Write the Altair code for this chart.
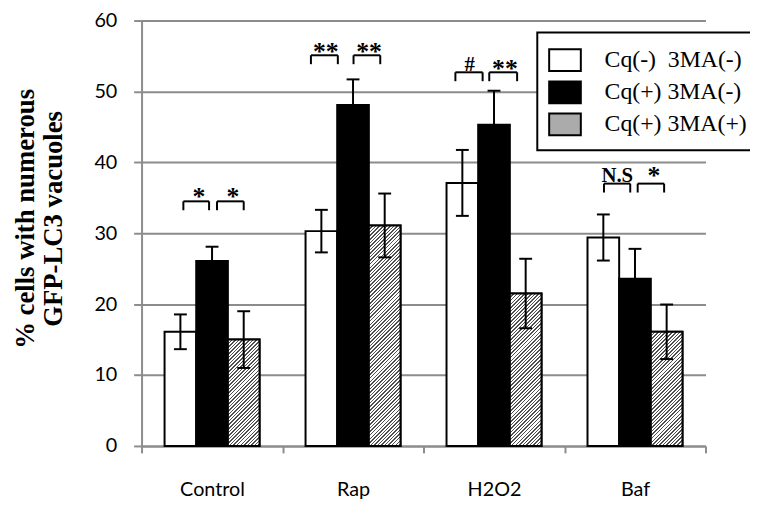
import math
import altair as alt
import pandas as pd

# ---------------- data ----------------
categories = ["Control", "Rap", "H2O2", "Baf"]
series = ["Cq(-)\u00a0 3MA(-)", "Cq(+) 3MA(-)", "Cq(+) 3MA(+)"]

mean_a = [16.1, 30.3, 37.1, 29.4]   # Cq(-) 3MA(-)
err_a = [2.45, 3.0, 4.65, 3.25]
mean_b = [26.1, 48.1, 45.3, 23.6]   # Cq(+) 3MA(-)
err_b = [2.0, 3.6, 4.8, 4.2]
mean_c = [15.0, 31.1, 21.5, 16.1]   # Cq(+) 3MA(+)
err_c = [4.0, 4.5, 4.9, 3.85]

# significance brackets: category, start/end (in bar widths from group centre), height
bracket_cat = [0, 0, 1, 1, 2, 2, 3, 3]
bracket_from = [-0.906, 0.156, -1.33, 0.016, -1.22, -0.15, -0.98, 0.085]
bracket_to = [-0.094, 1.0, -0.48, 0.86, -0.36, 0.73, -0.15, 0.92]
bracket_y = [34.5, 34.5, 55.1, 55.1, 52.7, 52.7, 37.0, 37.0]

# significance labels
sig_text = ["*", "*", "**", "**", "#", "**", "N.S", "*"]
sig_cat = [0, 0, 1, 1, 2, 2, 3, 3]
sig_x = [-0.416, 0.656, -0.86, 0.506, -0.77, 0.344, -0.56, 0.6]
sig_y = [33.95, 33.95, 54.5, 54.5, 52.9, 52.1, 37.27, 37.0]

y_ticks = [0, 10, 20, 30, 40, 50, 60]

# ---------------- layout constants ----------------
W, H = 570, 430
BAR_PX = 32
BW = BAR_PX / (W / len(categories))   # bar width in category units
GRID = "#8c8c8c"

rows = []
for si, (s, means, errs) in enumerate(zip(series, [mean_a, mean_b, mean_c], [err_a, err_b, err_c])):
    for ci, c in enumerate(categories):
        xc = ci + 0.5 + (si - 1) * BW
        rows.append(dict(cat=c, series=s, ci=ci, si=si, xc=xc, xl=xc - BW / 2, xr=xc + BW / 2,
                         mean=means[ci], lo=means[ci] - errs[ci], hi=means[ci] + errs[ci]))
bars_df = pd.DataFrame(rows)

br_df = pd.DataFrame(dict(
    bx1=[c + 0.5 + f * BW for c, f in zip(bracket_cat, bracket_from)],
    bx2=[c + 0.5 + t * BW for c, t in zip(bracket_cat, bracket_to)],
    by=bracket_y,
))
legs_df = pd.concat([
    pd.DataFrame(dict(lx=br_df["bx1"], by=br_df["by"])),
    pd.DataFrame(dict(lx=br_df["bx2"], by=br_df["by"])),
], ignore_index=True)

sig_df = pd.DataFrame(dict(
    label=sig_text,
    tx=[c + 0.5 + o * BW for c, o in zip(sig_cat, sig_x)],
    ty=sig_y,
))

# ---------------- scales & axes ----------------
xs = alt.Scale(domain=[0, len(categories)], nice=False, zero=False, padding=0)
ys = alt.Scale(domain=[0, 60], nice=False, padding=0)

label_expr = "[" + ",".join("'" + c + "'" for c in categories + [""]) + "][datum.value]"
xaxis = alt.Axis(values=list(range(len(categories) + 1)), labelExpr=label_expr,
                 labelOffset=W / len(categories) / 2, labelFlush=False, labelOverlap=False,
                 labelBound=False, grid=False, tickSize=7, tickWidth=2, tickColor=GRID,
                 domainColor=GRID, domainWidth=2, labelFont="Lato", labelFontSize=20,
                 labelColor="black", labelPadding=27, title=None)
yaxis = alt.Axis(values=y_ticks, grid=True, gridColor=GRID, gridWidth=2, tickSize=8,
                 tickWidth=2, tickColor=GRID, domainColor=GRID, domainWidth=2,
                 labelFont="Lato", labelFontSize=20, labelColor="black", labelPadding=17,
                 title=["% cells with numerous", "GFP-LC3 vacuoles"],
                 titleFont="Liberation Serif", titleFontWeight="bold", titleFontSize=27,
                 titleColor="black", titleLineHeight=28, titleAngle=270,
                 titleAlign="center", titleBaseline="alphabetic", titleX=-109, titleY=200)

X = lambda f: alt.X(f, scale=xs, axis=xaxis, title=None)
Y = lambda f: alt.Y(f, scale=ys, axis=yaxis, stack=None)

legend = alt.Legend(title=None, orient="none", legendX=400, legendY=12,
                    symbolType="M-1,-0.6875H1V0.6875H-1Z", symbolSize=1024,
                    symbolStrokeColor="black", symbolStrokeWidth=2, symbolOpacity=1,
                    labelFont="Liberation Serif", labelFontSize=24, labelColor="black",
                    labelOffset=23, rowPadding=0.5, padding=11, labelLimit=400,
                    strokeColor="black", fillColor="white")

base = alt.Chart(bars_df).mark_bar(stroke="black", strokeWidth=2).encode(
    x=X("xl:Q"), x2="xr:Q", y=Y("mean:Q"), y2=alt.datum(0),
    fill=alt.Fill("series:N", scale=alt.Scale(domain=series, range=["white", "black", "#ababab"]),
                  legend=legend, sort=series),
)


def hatch(h_px, w_px=BAR_PX, period=3.6, duty=0.42, dark="#505050", light="white"):
    s = w_px + h_px
    q = w_px * w_px + h_px * h_px
    n = s / period
    stops = []
    k = 0
    while k / n < 1:
        a = k / n
        b = min((k + duty) / n, 1)
        c = min((k + 1) / n, 1)
        stops += [dict(offset=round(a, 5), color=dark), dict(offset=round(b, 5), color=dark),
                  dict(offset=round(b, 5), color=light), dict(offset=round(c, 5), color=light)]
        k += 1
    return dict(gradient="linear", x1=0, y1=0, x2=round(w_px * s / q, 6),
                y2=round(h_px * s / q, 6), stops=stops)


hatched_layers = []
hdf = bars_df[bars_df["si"] == 2]
for _, r in hdf.iterrows():
    sub = hdf[hdf["ci"] == r["ci"]]
    h_px = r["mean"] / 60 * H
    hatched_layers.append(
        alt.Chart(sub).mark_bar(stroke="black", strokeWidth=2, fill=hatch(h_px)).encode(
            x=X("xl:Q"), x2="xr:Q", y=Y("mean:Q"), y2=alt.datum(0))
    )

err_rule = alt.Chart(bars_df).mark_rule(color="black", strokeWidth=2).encode(
    x=X("xc:Q"), y=Y("lo:Q"), y2="hi:Q")
cap_hi = alt.Chart(bars_df).mark_rule(color="black", strokeWidth=2, xOffset=-6.5, x2Offset=6.5).encode(
    x=X("xc:Q"), x2="xc:Q", y=Y("hi:Q"))
cap_lo = alt.Chart(bars_df).mark_rule(color="black", strokeWidth=2, xOffset=-6.5, x2Offset=6.5).encode(
    x=X("xc:Q"), x2="xc:Q", y=Y("lo:Q"))

br_line = alt.Chart(br_df).mark_rule(color="black", strokeWidth=2).encode(
    x=X("bx1:Q"), x2="bx2:Q", y=Y("by:Q"))
br_legs = alt.Chart(legs_df).mark_rule(color="black", strokeWidth=2, y2Offset=9).encode(
    x=X("lx:Q"), y=Y("by:Q"), y2="by:Q")

sig = alt.Chart(sig_df).mark_text(font="Liberation Serif", fontWeight="bold", baseline="alphabetic",
                                  align="center", color="black").encode(
    x=X("tx:Q"), y=Y("ty:Q"), text="label:N",
    size=alt.condition("datum.label == '*' || datum.label == '**'", alt.value(26), alt.value(21)))

chart = alt.layer(base, *hatched_layers, err_rule, cap_hi, cap_lo, br_line, br_legs, sig).properties(
    width=W, height=H,
    padding={"left": 135, "top": 10, "right": 45, "bottom": 56},
    autosize=alt.AutoSizeParams(type="none"),
).configure_view(stroke=None).configure_legend(strokeWidth=2)

chart.save("out.html", embed_options={"renderer": "svg", "actions": False})
